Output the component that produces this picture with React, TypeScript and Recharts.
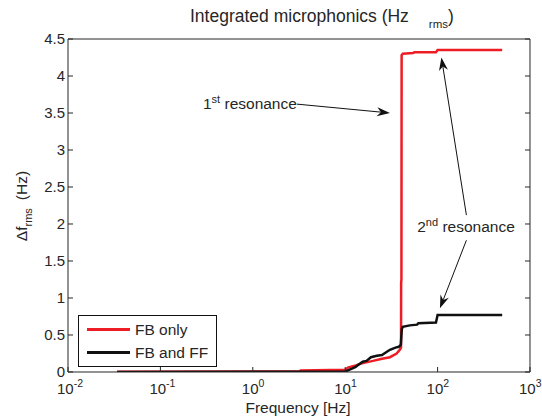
import { LineChart, Line, XAxis, YAxis, Legend, ReferenceLine, ReferenceDot } from 'recharts';

// Integrated microphonics: cumulative rms detuning vs. frequency
const FB_ONLY_F = [0.034, 3.2, 3.3, 10, 10.7, 13, 15.5, 20, 25, 30.5, 36, 39, 40.2, 40.3, 40.6, 40.8, 42, 54, 56, 96, 100, 500];
const FB_ONLY_V = [0.004, 0.006, 0.02, 0.03, 0.06, 0.09, 0.12, 0.15, 0.18, 0.2, 0.25, 0.3, 0.33, 1.2, 1.25, 4.28, 4.3, 4.31, 4.32, 4.32, 4.35, 4.35];

const FB_FF_F = [0.034, 10, 11, 12, 13, 14, 15.5, 17, 19, 22, 25, 28, 30.5, 35, 38, 40, 41, 42, 50, 60, 62, 96, 100, 500];
const FB_FF_V = [0.0, 0.005, 0.03, 0.05, 0.07, 0.1, 0.14, 0.15, 0.2, 0.22, 0.23, 0.27, 0.3, 0.33, 0.34, 0.37, 0.58, 0.61, 0.63, 0.64, 0.66, 0.67, 0.77, 0.77];

const X_TICKS = [0.01, 0.1, 1, 10, 100, 1000];
const X_MINOR = X_TICKS.slice(0, -1).flatMap((d) => [2, 3, 4, 5, 6, 7, 8, 9].map((k) => d * k));
const Y_TICKS = [0, 0.5, 1, 1.5, 2, 2.5, 3, 3.5, 4, 4.5];

const fbOnly = FB_ONLY_F.map((f, i) => ({ f, v: FB_ONLY_V[i] }));
const fbFf = FB_FF_F.map((f, i) => ({ f, v: FB_FF_V[i] }));

const RED = '#ee1d25';
const INK = '#262626';
const FONT = '"Liberation Sans", Arial, Helvetica, sans-serif';
const FS = 15.5;
// axes sit flush on the plot box; a zero size would stop them rendering
const FLUSH = 0.001;

// arrows: tail -> tip, in data units
const ARROWS = [
  { from: { x: 3.0, y: 3.62 }, to: { x: 30.5, y: 3.5 } },
  { from: { x: 205, y: 2.12 }, to: { x: 110, y: 4.25 } },
  { from: { x: 205, y: 1.78 }, to: { x: 106, y: 0.86 } },
];

const NoLabel = () => null;

function PowerTick({ x, y, payload }: any) {
  const exp = Math.round(Math.log10(payload.value));
  return (
    <text x={x - 11} y={y} textAnchor="start" fontSize={15} fill={INK} fontFamily={FONT}>
      <tspan dy={22}>10</tspan>
      <tspan dy={-7} fontSize={10.5}>{exp}</tspan>
    </text>
  );
}

function Arrow(props: any) {
  const { x1, y1, x2, y2 } = props;
  const a = Math.atan2(y2 - y1, x2 - x1);
  const len = 13;
  const hw = 4.5;
  const bx = x2 - len * Math.cos(a);
  const by = y2 - len * Math.sin(a);
  const nx = x2 - len * 0.7 * Math.cos(a);
  const ny = y2 - len * 0.7 * Math.sin(a);
  const px = -Math.sin(a) * hw;
  const py = Math.cos(a) * hw;
  return (
    <g>
      <line x1={x1} y1={y1} x2={nx} y2={ny} stroke="#111" strokeWidth={1} />
      <polygon points={`${x2},${y2} ${bx + px},${by + py} ${nx},${ny} ${bx - px},${by - py}`} fill="#111" />
    </g>
  );
}

function Ordinal({ cx, cy, sup, anchor }: any) {
  return (
    <text x={cx} y={cy} fontSize={FS} fill={INK} fontFamily={FONT} textAnchor={anchor}>
      {sup === 'st' ? '1' : '2'}
      <tspan dy={-6} fontSize={11}>{sup}</tspan>
      <tspan dy={6}> resonance</tspan>
    </text>
  );
}

function LegendBox() {
  const row = (color: string, text: string) => (
    <div style={{ display: 'flex', alignItems: 'center', height: 23 }}>
      <div style={{ width: 43, height: 3, background: color, marginLeft: 8, marginRight: 5 }} />
      <span style={{ fontSize: FS, color: INK, fontFamily: FONT }}>{text}</span>
    </div>
  );
  return (
    <div style={{ width: 137, height: 48, border: '1px solid #111', background: '#fff', paddingTop: 2, boxSizing: 'content-box' }}>
      {row(RED, 'FB only')}
      {row('#111', 'FB and FF')}
    </div>
  );
}

export default function App() {
  return (
    <div style={{ position: 'absolute', left: 0, top: 0, width: 542, height: 417, background: '#fff', fontFamily: FONT }}>
      <LineChart width={542} height={417} margin={{ top: 39, right: 12, bottom: 45, left: 68 }}>
        <XAxis xAxisId={0} dataKey="f" type="number" scale="log" domain={[0.01, 1000]} allowDataOverflow
          ticks={X_TICKS} interval={0} height={FLUSH} tickSize={-5} tickMargin={5}
          stroke={INK} tick={<PowerTick />} />
        <XAxis xAxisId="bm" type="number" scale="log" domain={[0.01, 1000]} allowDataOverflow
          ticks={X_MINOR} interval={0} height={FLUSH} tickSize={-3} axisLine={false} stroke={INK} tick={NoLabel} />
        <XAxis xAxisId="t" orientation="top" type="number" scale="log" domain={[0.01, 1000]} allowDataOverflow
          ticks={X_TICKS} interval={0} height={FLUSH} tickSize={-5} stroke={INK} tick={NoLabel} />
        <XAxis xAxisId="tm" orientation="top" type="number" scale="log" domain={[0.01, 1000]} allowDataOverflow
          ticks={X_MINOR} interval={0} height={FLUSH} tickSize={-3} axisLine={false} stroke={INK} tick={NoLabel} />
        <YAxis yAxisId={0} type="number" domain={[0, 4.5]} allowDataOverflow ticks={Y_TICKS} interval={0}
          width={FLUSH} tickSize={-5} tickMargin={8} stroke={INK}
          tick={{ fontSize: 15, fill: INK, fontFamily: FONT }} />
        <YAxis yAxisId="r" orientation="right" type="number" domain={[0, 4.5]} allowDataOverflow ticks={Y_TICKS}
          interval={0} width={FLUSH} tickSize={-5} stroke={INK} tick={NoLabel} />

        <Line data={fbOnly} dataKey="v" name="FB only" type="linear" stroke={RED} strokeWidth={2.5}
          dot={false} isAnimationActive={false} />
        <Line data={fbFf} dataKey="v" name="FB and FF" type="linear" stroke="#111" strokeWidth={2.5}
          dot={false} isAnimationActive={false} />

        {ARROWS.map((a, i) => (
          <ReferenceLine key={i} segment={[a.from, a.to]} shape={Arrow} ifOverflow="visible" />
        ))}
        <ReferenceDot x={3.0} y={3.55} r={0} ifOverflow="visible"
          shape={(p: any) => <Ordinal cx={p.cx} cy={p.cy} sup="st" anchor="end" />} />
        <ReferenceDot x={203} y={1.89} r={0} ifOverflow="visible"
          shape={(p: any) => <Ordinal cx={p.cx} cy={p.cy} sup="nd" anchor="middle" />} />

        <Legend layout="vertical" align="center" verticalAlign="middle"
          wrapperStyle={{ left: 78, top: 315, width: 'auto' }} content={() => <LegendBox />} />
      </LineChart>

      <svg width={542} height={417} style={{ position: 'absolute', left: 0, top: 0, pointerEvents: 'none' }}
        fontFamily={FONT} fill={INK}>
        <text x={190} y={22} fontSize={17.5}>
          Integrated microphonics (Hz
          <tspan dx={20} dy={6} fontSize={11.5}>rms</tspan>
          <tspan dy={-6}>)</tspan>
        </text>
        <text transform="translate(27,206) rotate(-90)" textAnchor="middle" fontSize={FS}>
          Δf<tspan dy={5} fontSize={11}>rms</tspan>
          <tspan dx={8} dy={-5}>(Hz)</tspan>
        </text>
        <text x={298} y={413} textAnchor="middle" fontSize={FS}>Frequency [Hz]</text>
      </svg>
    </div>
  );
}
